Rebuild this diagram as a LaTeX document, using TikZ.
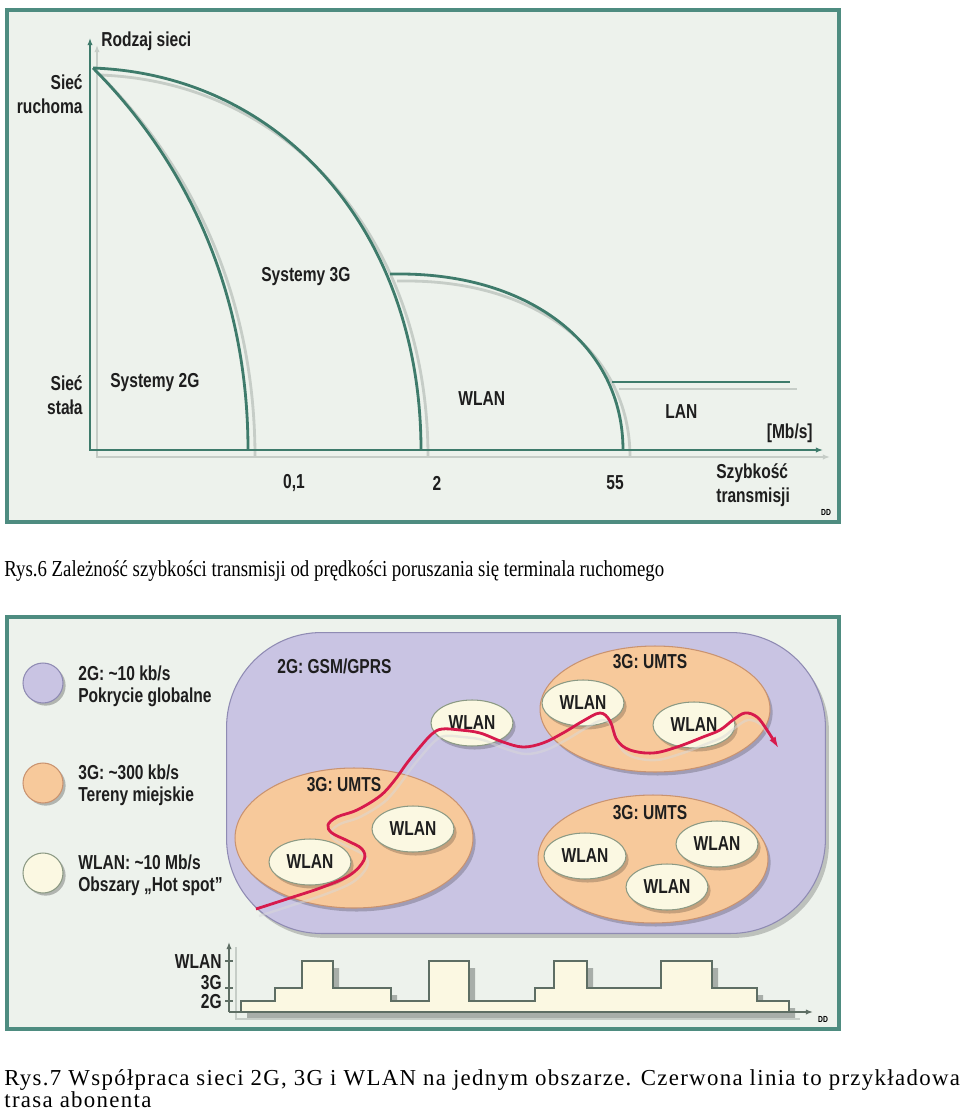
\documentclass[tikz,border=0pt]{standalone}
\usepackage{fontspec}
\setmainfont{Liberation Serif}
\newfontfamily\condsans[FakeStretch=0.77]{Liberation Sans Bold}
\newfontfamily\capnarrow[FakeStretch=0.824]{Liberation Serif}
\newfontfamily\capwide[LetterSpace=5.8]{Liberation Serif}
\usepackage{tikz}
\usetikzlibrary{arrows.meta, shapes.geometric, shadows}

\definecolor{frameC}{HTML}{4E8C80}
\definecolor{panelC}{HTML}{EDF2EC}
\definecolor{curveC}{HTML}{3E7B6B}
\definecolor{shadC}{HTML}{C6CDC7}
\definecolor{lavC}{HTML}{C9C4E3}
\definecolor{lavEdge}{HTML}{8F8BB3}
\definecolor{orgC}{HTML}{F7C99B}
\definecolor{orgEdge}{HTML}{C99370}
\definecolor{wlanC}{HTML}{FBF8E2}
\definecolor{wlanEdge}{HTML}{8C9A84}
\definecolor{routeC}{HTML}{D71A4C}
\definecolor{stepC}{HTML}{5E6E64}
\definecolor{textC}{HTML}{1E1E1E}

\begin{document}
\begin{tikzpicture}[
    x=0.02cm, y=-0.02cm,
    panel/.style={draw=frameC, line width=2.4pt, fill=panelC},
    curve/.style={line width=1.6pt},
    axis/.style={line width=0.9pt, {Latex[length=4pt,width=3pt]}-{Latex[length=4pt,width=3pt]}},
    lbl/.style={font=\condsans\fontsize{11.5}{13.6}\selectfont, text=textC, inner sep=0pt},
    leg/.style={font=\condsans\fontsize{11.5}{12.5}\selectfont, text=textC, inner sep=0pt, align=left, anchor=west},
    tinylbl/.style={font=\condsans\fontsize{5}{6}\selectfont, inner sep=0pt},
    captxt/.style={inner sep=0pt, align=left, anchor=base west},
    legdot/.style={circle, draw=#1Edge, fill=#1C, line width=0.6pt, minimum size=0.8cm, inner sep=0pt,
      drop shadow={shadow xshift=1.5pt, shadow yshift=-1.5pt, fill=black, opacity=0.25}},
    gsmbox/.style={draw=lavEdge, fill=lavC, line width=0.6pt, rounded corners=54pt, inner sep=0pt,
      drop shadow={shadow xshift=2pt, shadow yshift=-2.5pt, fill=black, opacity=0.2}},
    umts/.style={ellipse, draw=orgEdge, fill=orgC, line width=0.6pt, inner sep=0pt,
      drop shadow={shadow xshift=1.5pt, shadow yshift=-2pt, fill=black, opacity=0.2}},
    wlanbox/.style={ellipse, draw=wlanEdge, fill=wlanC, line width=0.6pt, inner sep=0pt,
      minimum width=1.64cm, minimum height=0.92cm, lbl,
      drop shadow={shadow xshift=1.5pt, shadow yshift=-2pt, fill=black, opacity=0.2}},
    route/.style={draw=routeC, line width=1.6pt, -{Latex[length=7pt,width=4pt]}},
  ]
  \useasboundingbox[fill=white] (0,0) rectangle (960,1119);

  % ---- Rys. 6: speed vs. network type ----
  \draw[panel] (7,10) rectangle (839,522);

  \foreach \d/\c in {7/shadC, 0/curveC}{
    \begin{scope}[shift={(\d,\d)}, color=\c]
      \draw[axis] (90,38) -- (90,450) -- (823,450);
      \draw[curve] (93,68) .. controls (185,160) and (248,290) .. (248,450);
      \draw[curve] (93,68) .. controls (285,75) and (421,235) .. (421,450);
      \draw[curve] (390,274) -- (400,274) .. controls (530,274) and (623,345) .. (623,450);
      \draw[curve] (612,382) -- (790,382);
    \end{scope}
  }

  \node[lbl, anchor=west] (rodzaj) at (101,41) {Rodzaj sieci};
  \node[lbl, anchor=east, align=right] (ruchoma) at (83,94) {Sieć\\ruchoma};
  \node[lbl, anchor=east, align=right] (stala) at (83,395) {Sieć\\stała};
  \node[lbl, anchor=west] (sys2g) at (110,383) {Systemy 2G};
  \node[lbl, anchor=west] (sys3g) at (261,277) {Systemy 3G};
  \node[lbl, anchor=west] (wlanr) at (458,399) {WLAN};
  \node[lbl, anchor=west] (lanr) at (665,412) {LAN};
  \node[lbl, anchor=east] (unit) at (813,433) {[Mb/s]};
  \node[lbl] (v01) at (294,483) {0,1};
  \node[lbl] (v2) at (437,483) {2};
  \node[lbl] (v55) at (615,483) {55};
  \node[lbl, anchor=west, align=left] (speed) at (716,485) {Szybkość\\transmisji};
  \node[tinylbl] (dd1) at (826,512) {DD};

  \node[captxt, font=\capnarrow\fontsize{13}{15}\selectfont] (cap6) at (4,576)
    {Rys.6 Zależność szybkości transmisji od prędkości poruszania się terminala ruchomego};

  % ---- Rys. 7: coverage map ----
  \draw[panel] (7,617) rectangle (839,1029);

  % legend
  \node[legdot=lav] (dot2g) at (43,683) {};
  \node[legdot=org] (dot3g) at (43,783) {};
  \node[legdot=wlan] (dotwl) at (43,873) {};
  \node[leg] (leg2g) at (78,686) {2G: \textasciitilde10 kb/s\\Pokrycie globalne};
  \node[leg] (leg3g) at (78,785) {3G: \textasciitilde300 kb/s\\Tereny miejskie};
  \node[leg] (legwl) at (78,875) {WLAN: \textasciitilde10 Mb/s\\Obszary „Hot spot”};

  % 2G area with 3G cells
  \node[gsmbox, minimum width=11.98cm, minimum height=6.02cm] (gsm) at (526,783) {};
  \node[lbl, anchor=west] (gsmlbl) at (277,666) {2G: GSM/GPRS};

  \node[umts, minimum width=4.76cm, minimum height=2.8cm] (umtsA) at (354,838) {};
  \node[umts, minimum width=4.6cm, minimum height=2.52cm] (umtsB) at (655,709) {};
  \node[umts, minimum width=4.6cm, minimum height=2.56cm] (umtsC) at (653,859) {};
  \node[lbl] (umtsAlbl) at (344,785) {3G: UMTS};
  \node[lbl] (umtsBlbl) at (650,662) {3G: UMTS};
  \node[lbl] (umtsClbl) at (650,813) {3G: UMTS};

  % hot spots
  \node[wlanbox] (hs1) at (310,862) {WLAN};
  \node[wlanbox] (hs2) at (413,829) {WLAN};
  \node[wlanbox] (hs3) at (472,723) {WLAN};
  \node[wlanbox] (hs4) at (583,703) {WLAN};
  \node[wlanbox] (hs5) at (694,725) {WLAN};
  \node[wlanbox] (hs6) at (585,856) {WLAN};
  \node[wlanbox] (hs7) at (717,844) {WLAN};
  \node[wlanbox] (hs8) at (667,887) {WLAN};

  % subscriber route
  \draw[white!70!gray, line width=1.4pt, opacity=0.5, shift={(3,7)}] plot[smooth, tension=0.6] coordinates {
    (256,909) (290,898) (323,887) (350,875) (364,860) (362,849) (348,841) (332,833) (328,825)
    (337,817) (357,810) (380,796) (394,781) (407,763) (420,747) (432,734) (442,729) (460,730)
    (480,733) (503,742) (523,747) (543,743) (563,733) (583,721) (600,713) (610,721) (617,740)
    (630,750) (653,753) (677,747) (703,737) (720,730) (733,720) (745,713) (757,717) (767,730)};
  \draw[route] plot[smooth, tension=0.6] coordinates {
    (256,909) (290,898) (323,887) (350,875) (364,860) (362,849) (348,841) (332,833) (328,825)
    (337,817) (357,810) (380,796) (394,781) (407,763) (420,747) (432,734) (442,729) (460,730)
    (480,733) (503,742) (523,747) (543,743) (563,733) (583,721) (600,713) (610,721) (617,740)
    (630,750) (653,753) (677,747) (703,737) (720,730) (733,720) (745,713) (757,717) (767,730)
    (779,749)};

  % network over time
  \fill[shadC!85!black, shift={(6,7)}] (241,1012) |- (275,1001) |- (302,988) |- (333,961) |- (391,988)
    |- (429,1001) |- (469,961) |- (535,1001) |- (554,988) |- (587,961) |- (661,988)
    |- (712,961) |- (757,988) |- (789,1001) -- (789,1012) -- cycle;
  \draw[stepC, fill=wlanC, line width=0.8pt] (241,1012) |- (275,1001) |- (302,988) |- (333,961)
    |- (391,988) |- (429,1001) |- (469,961) |- (535,1001) |- (554,988) |- (587,961)
    |- (661,988) |- (712,961) |- (757,988) |- (789,1001) -- (789,1012);
  \draw[shadC, line width=0.8pt] (236,947) -- (236,1019) -- (800,1019);
  \draw[stepC, line width=0.8pt, -{Latex[length=4pt,width=3pt]}] (229,1012) -- (813,1012);
  \draw[stepC, line width=0.8pt, -{Latex[length=4pt,width=3pt]}] (229,1012) -- (229,942);
  \foreach \ty in {961,988,1001}
    \draw[stepC, line width=0.6pt] (225,\ty) -- (233,\ty);
  \node[lbl, anchor=east] (tWLAN) at (222,962) {WLAN};
  \node[lbl, anchor=east] (t3G) at (222,983) {3G};
  \node[lbl, anchor=east] (t2G) at (222,1002) {2G};
  \node[tinylbl] (dd2) at (823,1019) {DD};

  \node[captxt, font=\capwide\fontsize{13}{12.5}\selectfont] (cap7) at (4,1107)
    {Rys.7 Współpraca sieci 2G, 3G i WLAN na jednym obszarze. Czerwona linia to przykładowa\\trasa abonenta};

\end{tikzpicture}
\end{document}
